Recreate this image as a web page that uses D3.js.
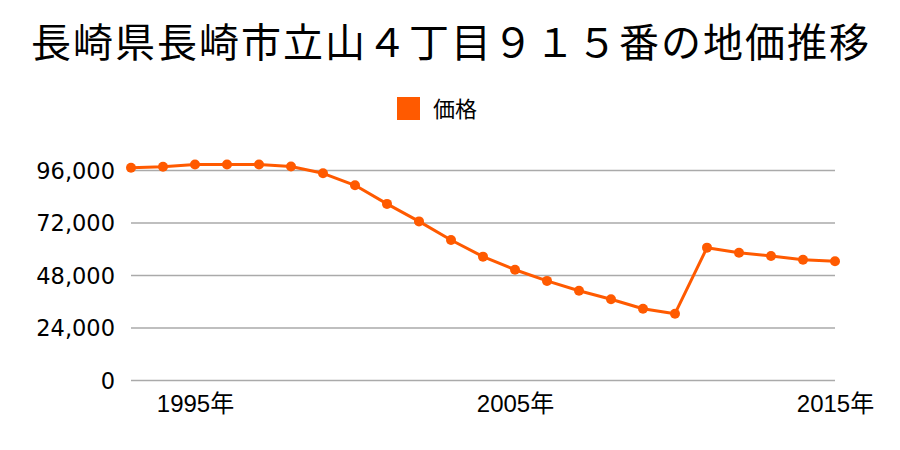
<!DOCTYPE html>
<html><head><meta charset="utf-8">
<script src="https://cdn.jsdelivr.net/npm/d3@7"></script>
<style>body{margin:0;background:#fff}svg{display:block}text{font-family:"Noto Sans CJK JP","Noto Sans",sans-serif}</style>
</head><body><svg id="c" width="900" height="450"></svg>
<script>
const title = "長崎県長崎市立山４丁目９１５番の地価推移";
const seriesName = "価格";
const years = [1993,1994,1995,1996,1997,1998,1999,2000,2001,2002,2003,2004,2005,2006,2007,2008,2009,2010,2011,2012,2013,2014,2015];
const prices = [97000,97500,98500,98500,98500,97600,94500,89000,80500,72500,64000,56400,50400,45300,40800,36900,32600,30300,60500,58200,56700,55000,54300];
const yTicks = [0,24000,48000,72000,96000];
const xTicks = [1995,2005,2015];

const svg = d3.select("#c");
const x = d3.scaleLinear().domain([1993,2015]).range([131,835]);
const y = d3.scaleLinear().domain([0,96000]).range([380,170]);
const color = "#ff5a00";

svg.append("text").attr("x",451).attr("y",57).attr("text-anchor","middle")
  .attr("font-size",40).attr("fill","#000").attr("letter-spacing",2).text(title);

svg.append("rect").attr("x",397).attr("y",97).attr("width",23).attr("height",23).attr("fill",color);
svg.append("text").attr("x",433).attr("y",117).attr("font-size",22).attr("fill","#000").text(seriesName);

const ya = svg.append("g").attr("transform","translate(131,0)")
  .call(d3.axisLeft(y).tickValues(yTicks).tickSize(-704).tickPadding(16).tickFormat(d3.format(",")));
ya.select(".domain").remove();
ya.selectAll("line").attr("stroke","#aaa").attr("stroke-width",1.3);
ya.selectAll("text").attr("font-size",22.5).attr("fill","#000").attr("dy","0.36em")
  .style("font-family","'DejaVu Sans',sans-serif");

const xa = svg.append("g").attr("transform","translate(0,380)")
  .call(d3.axisBottom(x).tickValues(xTicks).tickSize(0).tickPadding(15).tickFormat(d=>d+"年"));
xa.select(".domain").remove();
xa.selectAll("text").attr("font-size",24).attr("fill","#000")
  .style("font-family","'Liberation Sans','Noto Sans CJK JP',sans-serif");

const data = years.map((d,i)=>({yr:d,v:prices[i]}));
svg.append("path").datum(data).attr("fill","none").attr("stroke",color).attr("stroke-width",3)
  .attr("stroke-linejoin","round")
  .attr("d",d3.line().x(d=>x(d.yr)).y(d=>y(d.v)));
svg.append("g").selectAll("circle").data(data).join("circle")
  .attr("cx",d=>x(d.yr)).attr("cy",d=>y(d.v)).attr("r",5).attr("fill",color);
</script></body></html>
